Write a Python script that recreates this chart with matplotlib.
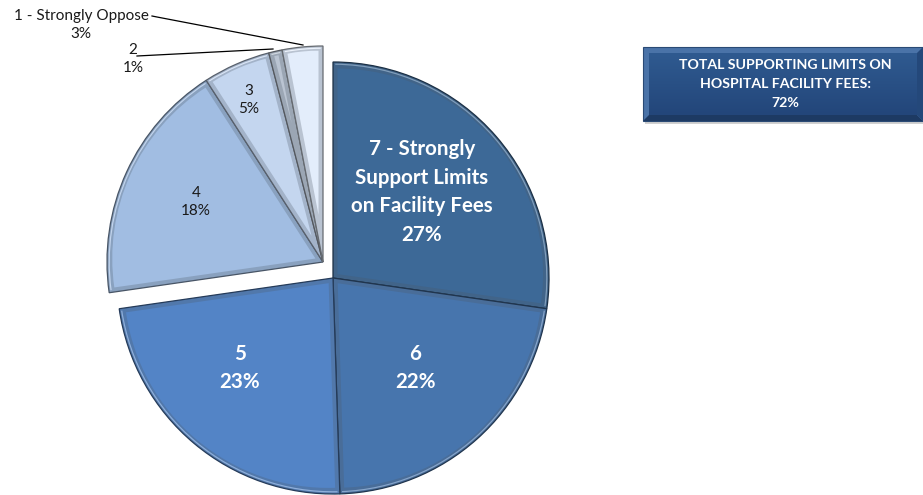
import matplotlib
matplotlib.use("Agg")
import matplotlib.pyplot as plt
from matplotlib.patches import Wedge, Rectangle, Polygon
from matplotlib.colors import to_rgb
import numpy as np

# Survey responses: support for limits on hospital facility fees (7-point scale)
ratings = ["7 - Strongly\nSupport Limits\non Facility Fees", "6", "5", "4", "3", "2",
           "1 - Strongly Oppose"]
shares = [27, 22, 23, 18, 5, 1, 3]
slice_colors = ["#3D6997", "#4775AD", "#5384C6", "#A1BDE2", "#C4D6EF", "#BAC4D2", "#E3EDFB"]
pulled_out = [False, False, False, True, True, True, True]
support_count = 3  # ratings 5..7 count as support
total_support = sum(shares[:support_count])

W, H = 923, 495
plt.rcParams["font.family"] = ["Lato", "DejaVu Sans"]

fig = plt.figure(figsize=(W / 100, H / 100), dpi=100)
ax = fig.add_axes([0, 0, 1, 1])


def py(y):
    """Convert a top-down pixel row into the axes' y coordinate."""
    return H - y


def mix(c1, c2, t):
    a, b = np.array(to_rgb(c1)), np.array(to_rgb(c2))
    return tuple(a * (1 - t) + b * t)


cx, cy, R = 333, py(278), 216
shift = (-10, 16)

wedges, _ = ax.pie(shares, startangle=90, counterclock=False, colors=slice_colors,
                   radius=R, center=(cx, cy),
                   wedgeprops=dict(linewidth=0.9))
for w, pulled, col in zip(wedges, pulled_out, slice_colors):
    if pulled:
        w.set_center((cx + shift[0], cy + shift[1]))
    # bevel band: darker rim around each slice, fill inset
    w.set_facecolor(mix(col, "#4d5866", 0.28))
    w.set_edgecolor(mix(col, "#000000", 0.55))

bevel = 4.5
for w, col in zip(wedges, slice_colors):
    t1, t2 = w.theta1, w.theta2
    half = np.radians((t2 - t1) / 2)
    mid = np.radians((t1 + t2) / 2)
    s = bevel / np.sin(half) if half < np.pi / 2 else bevel
    c0 = np.array(w.center)
    c_in = c0 + s * np.array([np.cos(mid), np.sin(mid)])
    r_in = w.r - bevel - s
    if r_in > 2:
        ax.add_patch(Wedge(tuple(c_in), r_in, t1, t2, facecolor=col,
                           edgecolor="none", zorder=w.get_zorder() + 0.1))
        # soft highlight along the outer rim
        ax.add_patch(Wedge(tuple(c0), w.r - 1.6, t1 + 0.6, t2 - 0.6, width=1.2,
                           facecolor=mix(col, "#ffffff", 0.35), edgecolor="none",
                           zorder=w.get_zorder() + 0.2))

ax.set_xlim(0, W)
ax.set_ylim(0, H)
ax.set_aspect("equal")
ax.axis("off")

# In-slice labels
white = dict(color="white", fontweight="bold", fontsize=14.8, ha="center", va="center",
             linespacing=1.55, zorder=10)
dark = dict(color="#1a1a1a", fontsize=11, ha="center", va="center", linespacing=1.4,
            zorder=10)
ax.text(422, py(192), f"{ratings[0]}\n{shares[0]}%", **white)
ax.text(415, py(368), f"{ratings[1]}\n{shares[1]}%", **white)
ax.text(240, py(368), f"{ratings[2]}\n{shares[2]}%", **white)
ax.text(196, py(202), f"{ratings[3]}\n{shares[3]}%", **dark)
ax.text(249, py(100), f"{ratings[4]}\n{shares[4]}%", **dark)

# Outside labels with leader lines
ax.text(81, py(25), f"{ratings[6]}\n{shares[6]}%", **dark)
ax.text(133, py(59), f"{ratings[5]}\n{shares[5]}%", **dark)
ax.plot([152, 157, 303], [py(16), py(17), py(45)], color="black", lw=0.9, zorder=11)
ax.plot([137, 273], [py(56), py(49)], color="black", lw=0.9, zorder=11)

# Summary box with bevelled edges
x0, x1, y0, y1 = 643, 923, py(121), py(47)
b = 6
ax.add_patch(Rectangle((x0 + 2, y0 - 3), x1 - x0, y1 - y0, facecolor="#000000",
                       alpha=0.18, edgecolor="none", zorder=2))
ax.add_patch(Rectangle((x0, y0), x1 - x0, y1 - y0, facecolor="#4A73A8",
                       edgecolor="#2a4a75", lw=0.8, zorder=3))
ax.add_patch(Polygon([(x0, y0), (x1, y0), (x1 - b, y0 + b), (x0 + b, y0 + b)],
                     closed=True, facecolor="#1D3A63", edgecolor="none", zorder=3.1))
ax.add_patch(Polygon([(x1, y0), (x1, y1), (x1 - b, y1 - b), (x1 - b, y0 + b)],
                     closed=True, facecolor="#24487A", edgecolor="none", zorder=3.1))
grad = np.linspace(0, 1, 64)[:, None]
top_c, bot_c = np.array(to_rgb("#2F5A90")), np.array(to_rgb("#23467A"))
img = top_c[None, None, :] * (1 - grad[..., None]) + bot_c[None, None, :] * grad[..., None]
ax.imshow(img, extent=(x0 + b, x1 - b, y0 + b, y1 - b), origin="upper",
          aspect="auto", zorder=3.2, interpolation="bilinear")
ax.text((x0 + x1) / 2 + 2, py(84),
        f"TOTAL SUPPORTING LIMITS ON\nHOSPITAL FACILITY FEES:\n{total_support}%",
        color="white", fontweight="bold", fontsize=10.2, ha="center", va="center",
        linespacing=1.7, zorder=4)
ax.set_xlim(0, W)
ax.set_ylim(0, H)

fig.savefig("out.png", dpi=100)
